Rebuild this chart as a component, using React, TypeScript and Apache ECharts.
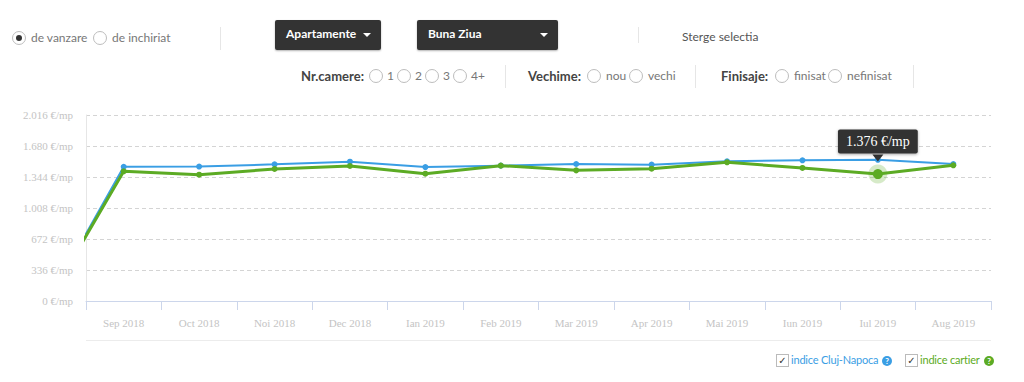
import React, { useEffect, useRef } from "react";
import * as echarts from "echarts";

// Months: first one (Aug 2018) lies half a band left of the visible plot
const months = [
  "Aug 2018", "Sep 2018", "Oct 2018", "Noi 2018", "Dec 2018", "Ian 2019", "Feb 2019",
  "Mar 2019", "Apr 2019", "Mai 2019", "Iun 2019", "Iul 2019", "Aug 2019",
];
const clujValues = [0, 1455, 1457, 1481, 1510, 1452, 1467, 1485, 1478, 1514, 1525, 1530, 1485];
const cartierValues = [0, 1406, 1369, 1431, 1463, 1380, 1467, 1416, 1434, 1503, 1442, 1376, 1471];
const yTicks = { min: 0, max: 2016, step: 336 };
const highlightIndex = 11;

const BLUE = "#3a9ee4";
const GREEN = "#5cab24";

const fmt = (v: number) => String(v).replace(/\B(?=(\d{3})+(?!\d))/g, ".");

const ctrlFont = "Lato, 'Open Sans', sans-serif";

function Radio({ x, y, checked }: { x: number; y: number; checked?: boolean }) {
  return (
    <div
      style={{
        position: "absolute", left: x, top: y - 7, width: 12, height: 12, borderRadius: "50%",
        border: "1px solid #bdbdbd", background: "#fff", boxSizing: "content-box",
      }}
    >
      {checked && (
        <div style={{ position: "absolute", left: 3, top: 3, width: 6, height: 6, borderRadius: "50%", background: "#333" }} />
      )}
    </div>
  );
}

function Txt({ x, y, children, bold, color, size, ls }: any) {
  return (
    <div
      style={{
        position: "absolute", left: x, top: y - 9, height: 18, lineHeight: "18px", whiteSpace: "nowrap",
        fontFamily: ctrlFont, fontSize: size || 12, fontWeight: bold ? 700 : 400, color: color || "#777",
        letterSpacing: ls || 0,
      }}
    >
      {children}
    </div>
  );
}

function Sep({ x, y1, y2 }: { x: number; y1: number; y2: number }) {
  return <div style={{ position: "absolute", left: x, top: y1, width: 1, height: y2 - y1, background: "#e6e6e6" }} />;
}

function Btn({ x, w, label }: { x: number; w: number; label: string }) {
  return (
    <div
      style={{
        position: "absolute", left: x, top: 20, width: w, height: 30, background: "#333", borderRadius: 2,
        color: "#fff", fontFamily: ctrlFont, fontSize: 12, fontWeight: 700, lineHeight: "28px",
        boxShadow: "0 1px 2px rgba(0,0,0,0.3)",
      }}
    >
      <span style={{ position: "absolute", left: 11 }}>{label}</span>
      <span
        style={{
          position: "absolute", right: 10, top: 13, width: 0, height: 0,
          borderLeft: "4px solid transparent", borderRight: "4px solid transparent", borderTop: "4px solid #fff",
        }}
      />
    </div>
  );
}

function CheckBox({ x, y }: { x: number; y: number }) {
  return (
    <div
      style={{
        position: "absolute", left: x, top: y - 6, width: 11, height: 11, border: "1px solid #bbb",
        background: "#fff", fontSize: 10, lineHeight: "11px", textAlign: "center", color: "#333",
        fontFamily: "DejaVu Sans, sans-serif",
      }}
    >
      ✓
    </div>
  );
}

function Help({ x, y, color }: { x: number; y: number; color: string }) {
  return (
    <div
      style={{
        position: "absolute", left: x, top: y - 5, width: 10, height: 10, borderRadius: "50%", background: color,
        color: "#fff", fontSize: 8, lineHeight: "10px", textAlign: "center", fontWeight: 700, fontFamily: ctrlFont,
      }}
    >
      ?
    </div>
  );
}

export default function App() {
  const ref = useRef<HTMLDivElement>(null);

  useEffect(() => {
    const chart = echarts.init(ref.current!, null, { renderer: "svg" });
    const xs = months.map((_, i) => i - 0.5);
    const axisFont = { fontFamily: "'Liberation Serif', 'Times New Roman', serif", fontSize: 11, color: "#c4c4c4" };

    chart.setOption({
      animation: false,
      grid: { left: 86, right: 33, top: 115, bottom: 81, containLabel: false },
      xAxis: [
        {
          type: "value",
          min: 0,
          max: months.length - 1,
          interval: 1,
          axisLine: { show: true, lineStyle: { color: "#ccd6eb", width: 1 } },
          axisTick: { show: true, length: 9, lineStyle: { color: "#ccd6eb" } },
          axisLabel: { show: false },
          splitLine: { show: false },
        },
        {
          type: "category",
          data: months.slice(1),
          boundaryGap: true,
          position: "bottom",
          axisLine: { show: false },
          axisTick: { show: false },
          axisLabel: { ...axisFont, margin: 16 },
          splitLine: { show: false },
        },
      ],
      yAxis: {
        type: "value",
        min: yTicks.min,
        max: yTicks.max,
        interval: yTicks.step,
        axisLine: { show: true, lineStyle: { color: "#e6e6e6" } },
        axisTick: { show: false },
        axisLabel: { ...axisFont, margin: 13, formatter: (v: number) => `${fmt(v)} €/mp` },
        splitLine: { show: true, lineStyle: { color: "#d4d4d4", type: [4, 3], width: 1 } },
      },
      series: [
        {
          name: "indice Cluj-Napoca",
          type: "line",
          xAxisIndex: 0,
          data: clujValues.map((v, i) => [xs[i], v]),
          symbol: "circle",
          symbolSize: 6,
          showSymbol: true,
          lineStyle: { color: BLUE, width: 2 },
          itemStyle: { color: BLUE },
          clip: true,
          z: 2,
        },
        {
          name: "indice cartier",
          type: "line",
          xAxisIndex: 0,
          data: cartierValues.map((v, i) =>
            i === highlightIndex ? { value: [xs[i], v], symbolSize: 10 } : [xs[i], v]
          ),
          symbol: "circle",
          symbolSize: 6,
          showSymbol: true,
          lineStyle: { color: GREEN, width: 3 },
          itemStyle: { color: GREEN },
          clip: true,
          z: 3,
          markPoint: {
            silent: true,
            data: [
              {
                coord: [xs[highlightIndex], cartierValues[highlightIndex]],
                symbol: "circle",
                symbolSize: 19,
                itemStyle: { color: "rgba(92,171,36,0.25)" },
                label: {
                  show: true,
                  position: "top",
                  distance: 11,
                  formatter: `${fmt(cartierValues[highlightIndex])} €/mp`,
                  backgroundColor: "#333",
                  color: "#fff",
                  fontFamily: "'Liberation Serif', 'Times New Roman', serif",
                  fontSize: 14,
                  lineHeight: 14,
                  padding: [5, 8],
                  borderRadius: 2,
                  shadowBlur: 3,
                  shadowColor: "rgba(0,0,0,0.35)",
                  shadowOffsetY: 1,
                },
              },
              {
                coord: [xs[highlightIndex], cartierValues[highlightIndex]],
                symbol: "triangle",
                symbolRotate: 180,
                symbolSize: [11, 7],
                symbolOffset: [0, -16],
                itemStyle: { color: "#333" },
                label: { show: false },
              },
            ],
          },
        },
      ],
    });
    return () => chart.dispose();
  }, []);

  return (
    <div style={{ position: "absolute", left: 0, top: 0, width: 1024, height: 382, background: "#fff", overflow: "hidden" }}>
      <div ref={ref} style={{ position: "absolute", left: 0, top: 0, width: 1024, height: 382 }} />
      {/* bottom rule */}
      <div style={{ position: "absolute", left: 86, top: 340, width: 905, height: 1, background: "#ececec" }} />

      {/* Row 1 */}
      <Radio x={12} y={38} checked />
      <Txt x={31} y={38}>de vanzare</Txt>
      <Radio x={93} y={38} />
      <Txt x={112} y={38}>de inchiriat</Txt>
      <Sep x={220} y1={27} y2={50} />
      <Btn x={275} w={106} label="Apartamente" />
      <Btn x={417} w={141} label="Buna Ziua" />
      <Sep x={638} y1={27} y2={43} />
      <Txt x={682} y={37} color="#555">Sterge selectia</Txt>

      {/* Row 2 */}
      <Txt x={301} y={76} bold color="#444" size={13}>Nr.camere:</Txt>
      <Radio x={369} y={76} />
      <Txt x={387} y={76}>1</Txt>
      <Radio x={397} y={76} />
      <Txt x={415} y={76}>2</Txt>
      <Radio x={425} y={76} />
      <Txt x={443} y={76}>3</Txt>
      <Radio x={453} y={76} />
      <Txt x={471} y={76}>4+</Txt>
      <Sep x={505} y1={65} y2={88} />
      <Txt x={528} y={76} bold color="#444" size={13}>Vechime:</Txt>
      <Radio x={587} y={76} />
      <Txt x={606} y={76}>nou</Txt>
      <Radio x={629} y={76} />
      <Txt x={648} y={76}>vechi</Txt>
      <Sep x={695} y1={65} y2={88} />
      <Txt x={721} y={76} bold color="#444" size={13}>Finisaje:</Txt>
      <Radio x={775} y={76} />
      <Txt x={794} y={76}>finisat</Txt>
      <Radio x={828} y={76} />
      <Txt x={847} y={76}>nefinisat</Txt>
      <Sep x={913} y1={65} y2={88} />

      {/* Legend */}
      <CheckBox x={776} y={360} />
      <Txt x={791} y={360} color={BLUE} size={11} ls={-0.2}>indice Cluj-Napoca</Txt>
      <Help x={882} y={361} color={BLUE} />
      <CheckBox x={905} y={360} />
      <Txt x={920} y={360} color={GREEN} size={11} ls={-0.2}>indice cartier</Txt>
      <Help x={984} y={361} color={GREEN} />
    </div>
  );
}
